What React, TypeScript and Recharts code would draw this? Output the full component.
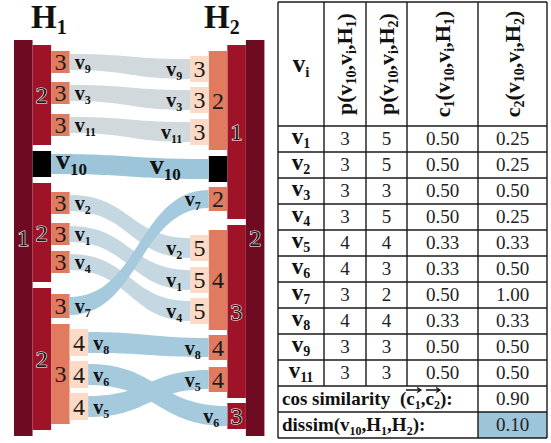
import React from "react";
import {
  ComposedChart,
  XAxis,
  YAxis,
  Area,
  ReferenceArea,
  ReferenceDot,
} from "recharts";

const SERIF = '"Liberation Serif", "Times New Roman", serif';

// fill per depth of the hierarchy, outermost -> innermost
const LEVEL_FILL = ["#6e0b22", "#9f1329", "#e07b60", "#fddac6"];
const BLACK = "#000000";

const GRAY_LINK = "#d2d9dc";
const PALE_LINK = "#c5d8e2";
const BLUE_LINK = "#a5cadd";
const V10_LINK = "#9cc5d9";

type HNode = { id?: string; level: number; y0: number; y1: number; label: string };

// H1 (left side)
const h1Nodes: HNode[] = [
  { level: 0, y0: 40, y1: 436, label: "1" },
  { level: 1, y0: 45, y1: 145, label: "2" },
  { id: "10", level: 1, y0: 151, y1: 177, label: "" },
  { level: 1, y0: 183, y1: 282, label: "2" },
  { level: 1, y0: 288, y1: 430, label: "2" },
  { id: "9", level: 2, y0: 51, y1: 73, label: "3" },
  { id: "3", level: 2, y0: 82, y1: 104, label: "3" },
  { id: "11", level: 2, y0: 114, y1: 136, label: "3" },
  { id: "2", level: 2, y0: 192, y1: 214, label: "3" },
  { id: "1", level: 2, y0: 223, y1: 245, label: "3" },
  { id: "4", level: 2, y0: 251, y1: 273, label: "3" },
  { id: "7", level: 2, y0: 294, y1: 318, label: "3" },
  { level: 2, y0: 324, y1: 424, label: "3" },
  { id: "8", level: 3, y0: 329, y1: 356, label: "4" },
  { id: "6", level: 3, y0: 361, y1: 388, label: "4" },
  { id: "5", level: 3, y0: 393, y1: 420, label: "4" },
];

// H2 (right side)
const h2Nodes: HNode[] = [
  { level: 0, y0: 40, y1: 436, label: "2" },
  { level: 1, y0: 45, y1: 219, label: "1" },
  { level: 1, y0: 225, y1: 398, label: "3" },
  { id: "6", level: 1, y0: 403, y1: 429, label: "3" },
  { level: 2, y0: 51, y1: 150, label: "2" },
  { id: "10", level: 2, y0: 156, y1: 182, label: "" },
  { id: "7", level: 2, y0: 187, y1: 211, label: "2" },
  { level: 2, y0: 230, y1: 330, label: "4" },
  { id: "8", level: 2, y0: 335, y1: 360, label: "4" },
  { id: "5", level: 2, y0: 367, y1: 392, label: "4" },
  { id: "9", level: 3, y0: 56, y1: 82, label: "3" },
  { id: "3", level: 3, y0: 87, y1: 113, label: "3" },
  { id: "11", level: 3, y0: 119, y1: 145, label: "3" },
  { id: "2", level: 3, y0: 235, y1: 261, label: "5" },
  { id: "1", level: 3, y0: 267, y1: 293, label: "5" },
  { id: "4", level: 3, y0: 298, y1: 324, label: "5" },
];

const linkNames = ["9", "3", "11", "10", "2", "1", "4", "8", "6", "5", "7"];
const linkColors = [
  GRAY_LINK, GRAY_LINK, GRAY_LINK, V10_LINK, PALE_LINK, PALE_LINK, PALE_LINK,
  BLUE_LINK, BLUE_LINK, BLUE_LINK, BLUE_LINK,
];

// table
const vertices = ["1", "2", "3", "4", "5", "6", "7", "8", "9", "11"];
const pH1 = [3, 3, 3, 3, 4, 4, 3, 4, 3, 3];
const pH2 = [5, 5, 3, 5, 4, 3, 2, 4, 3, 3];
const cH1 = [0.5, 0.5, 0.5, 0.5, 0.33, 0.33, 0.5, 0.33, 0.5, 0.5];
const cH2 = [0.25, 0.25, 0.5, 0.25, 0.33, 0.5, 1.0, 0.33, 0.5, 0.5];
const cosSimilarity = 0.9;
const dissim = 0.1;

// layout
const COL_PX = 18.55;
const LEFT_PX = 14;
const CHART_W = 270;
const CHART_H = 443;
const H2_OUTER = 12.5; // column index of the outer H2 column
const INSET = 3;

const h1Left = (n: HNode) => n.level;
const h2Left = (n: HNode) => H2_OUTER - n.level;

type Part = [string, boolean?];

function Rich({ parts, size, subSize, shift, ...rest }: any) {
  let prev = false;
  return (
    <text fontSize={size} {...rest}>
      {parts.map(([s, sub]: Part, i: number) => {
        const dy = sub && !prev ? shift : !sub && prev ? -shift : 0;
        prev = !!sub;
        return (
          <tspan key={i} dy={dy || undefined} fontSize={sub ? subSize : size}>
            {s}
          </tspan>
        );
      })}
    </text>
  );
}

function boxLabel(text: string, level: number) {
  return (p: any) => (
    <text
      x={p.cx}
      y={p.cy + 8}
      textAnchor="middle"
      fontFamily={SERIF}
      fontSize={24}
      fill="#1b1b1b"
      stroke={level < 2 ? "#ffffff" : "none"}
      strokeWidth={level < 2 ? 1.2 : 0}
      paintOrder="stroke"
    >
      {text}
    </text>
  );
}

function linkLabel(name: string, side: "start" | "end") {
  const big = name === "10";
  const pad = side === "start" ? 5 : big ? 28 : 8;
  return (p: any) => (
    <Rich
      parts={[["v"], [name, true]]}
      x={side === "start" ? p.cx + pad : p.cx - pad}
      y={p.cy + (big ? 5 : 7)}
      textAnchor={side}
      fontFamily={SERIF}
      fontWeight="bold"
      fill="#111"
      size={big ? 28 : 20}
      subSize={big ? 17 : 12}
      shift={big ? 6 : 4}
    />
  );
}

function Sankey() {
  const boxes = [
    ...h1Nodes.map((n) => ({ ...n, x: h1Left(n) })),
    ...h2Nodes.map((n) => ({ ...n, x: h2Left(n) })),
  ];
  const links = linkNames.map((name, i) => {
    const a = h1Nodes.find((n) => n.id === name)!;
    const b = h2Nodes.find((n) => n.id === name)!;
    return {
      name,
      color: linkColors[i],
      x0: h1Left(a) + 1,
      x1: h2Left(b),
      a,
      b,
    };
  });

  return (
    <ComposedChart
      width={CHART_W}
      height={CHART_H}
      margin={{ top: 0, right: 0, bottom: 0, left: 0 }}
    >
      <XAxis
        dataKey="x"
        type="number"
        domain={[-LEFT_PX / COL_PX, (CHART_W - LEFT_PX) / COL_PX]}
        allowDataOverflow
        hide
      />
      <YAxis type="number" domain={[0, CHART_H]} reversed allowDataOverflow hide />
      {boxes.map((b, i) => (
        <ReferenceArea
          key={"box" + i}
          x1={b.x}
          x2={b.x + 1}
          y1={b.y0}
          y2={b.y1}
          fill={b.label === "" ? BLACK : LEVEL_FILL[b.level]}
          fillOpacity={1}
          stroke="none"
          ifOverflow="visible"
        />
      ))}
      {links.map((l) => (
        <Area
          key={"link" + l.name}
          data={[
            { x: l.x0, band: [l.a.y0 + INSET, l.a.y1 - INSET] },
            { x: l.x1, band: [l.b.y0 + INSET, l.b.y1 - INSET] },
          ]}
          dataKey="band"
          type="bumpX"
          fill={l.color}
          fillOpacity={1}
          stroke="none"
          dot={false}
          activeDot={false}
          isAnimationActive={false}
        />
      ))}
      {boxes
        .filter((b) => b.label !== "")
        .map((b, i) => (
          <ReferenceDot
            key={"bl" + i}
            x={b.x + 0.5}
            y={(b.y0 + b.y1) / 2}
            ifOverflow="visible"
            shape={boxLabel(b.label, b.level)}
          />
        ))}
      {links.map((l) => (
        <ReferenceDot
          key={"ls" + l.name}
          x={l.x0}
          y={(l.a.y0 + l.a.y1) / 2}
          ifOverflow="visible"
          shape={linkLabel(l.name, "start")}
        />
      ))}
      {links.map((l) => (
        <ReferenceDot
          key={"le" + l.name}
          x={l.x1}
          y={(l.b.y0 + l.b.y1) / 2}
          ifOverflow="visible"
          shape={linkLabel(l.name, "end")}
        />
      ))}
    </ComposedChart>
  );
}

// table geometry
const TX = [278, 324, 366, 407, 478, 547];
const T_TOP = 2;
const HEAD_BOTTOM = 126;
const ROW_H = 26;

function Table() {
  const rowsTop = (i: number) => HEAD_BOTTOM + i * ROW_H;
  const bottom = rowsTop(vertices.length + 2);
  const line = "#1a1a1a";
  const cx = (c: number) => (TX[c] + TX[c + 1]) / 2;
  const headers: Part[][] = [
    [["p(v"], ["10", true], [",v"], ["i", true], [",H"], ["1", true], [")"]],
    [["p(v"], ["10", true], [",v"], ["i", true], [",H"], ["2", true], [")"]],
    [["c"], ["1", true], ["(v"], ["10", true], [",v"], ["i", true], [",H"], ["1", true], [")"]],
    [["c"], ["2", true], ["(v"], ["10", true], [",v"], ["i", true], [",H"], ["2", true], [")"]],
  ];
  const cosTop = rowsTop(vertices.length);
  const disTop = rowsTop(vertices.length + 1);
  const arrow = (x0: number, x1: number, y: number) => (
    <path
      d={`M${x0},${y} L${x1},${y} M${x1 - 4},${y - 2.5} L${x1},${y} L${x1 - 4},${y + 2.5}`}
      stroke="#111"
      strokeWidth={1.3}
      fill="none"
    />
  );
  return (
    <svg
      width={551}
      height={443}
      style={{ position: "absolute", left: 0, top: 0 }}
      fontFamily={SERIF}
    >
      <rect x={TX[4]} y={disTop} width={TX[5] - TX[4]} height={ROW_H} fill="#9dc5d9" />
      {/* horizontal rules */}
      {[T_TOP, HEAD_BOTTOM, ...vertices.map((_, i) => rowsTop(i + 1)), disTop, bottom].map(
        (y, i) => (
          <line key={"h" + i} x1={TX[0]} x2={TX[5]} y1={y} y2={y} stroke={line} strokeWidth={1.4} />
        )
      )}
      {/* vertical rules */}
      {TX.map((x, i) => (
        <line
          key={"v" + i}
          x1={x}
          x2={x}
          y1={T_TOP}
          y2={i === 0 || i >= 4 ? bottom : cosTop}
          stroke={line}
          strokeWidth={1.4}
        />
      ))}
      <Rich
        parts={[["v"], ["i", true]]}
        x={cx(0)}
        y={72}
        textAnchor="middle"
        fontWeight="bold"
        fill="#111"
        size={25}
        subSize={15}
        shift={5}
      />
      {headers.map((parts, i) => (
        <g key={"hd" + i} transform={`translate(${cx(i + 1)},${(T_TOP + HEAD_BOTTOM) / 2}) rotate(-90)`}>
          <Rich
            parts={parts}
            x={0}
            y={7}
            textAnchor="middle"
            fontWeight="bold"
            fill="#111"
            size={22}
            subSize={14}
            shift={4}
          />
        </g>
      ))}
      {vertices.map((v, i) => {
        const y = rowsTop(i) + 19;
        return (
          <g key={"r" + v}>
            <Rich
              parts={[["v"], [v, true]]}
              x={cx(0)}
              y={y - 1}
              textAnchor="middle"
              fontWeight="bold"
              fill="#111"
              size={23}
              subSize={14}
              shift={4}
            />
            <text x={cx(1)} y={y} textAnchor="middle" fontSize={19} fill="#222">{pH1[i]}</text>
            <text x={cx(2)} y={y} textAnchor="middle" fontSize={19} fill="#222">{pH2[i]}</text>
            <text x={cx(3)} y={y} textAnchor="middle" fontSize={19} fill="#222">{cH1[i].toFixed(2)}</text>
            <text x={cx(4)} y={y} textAnchor="middle" fontSize={19} fill="#222">{cH2[i].toFixed(2)}</text>
          </g>
        );
      })}
      <text x={282} y={cosTop + 19} fontSize={19} fontWeight="bold" fill="#111">cos similarity</text>
      <Rich
        parts={[["(c"], ["1", true], [",c"], ["2", true], ["):"]]}
        x={400}
        y={cosTop + 19}
        fontWeight="bold"
        fill="#111"
        size={19}
        subSize={12}
        shift={4}
      />
      {arrow(406, 421, cosTop + 4)}
      {arrow(426, 440, cosTop + 4)}
      <text x={cx(4)} y={cosTop + 19} textAnchor="middle" fontSize={19} fill="#222">
        {cosSimilarity.toFixed(2)}
      </text>
      <Rich
        parts={[["dissim(v"], ["10", true], [",H"], ["1", true], [",H"], ["2", true], ["):"]]}
        x={282}
        y={disTop + 19}
        fontWeight="bold"
        fill="#111"
        size={19}
        subSize={12}
        shift={4}
      />
      <text x={cx(4)} y={disTop + 19} textAnchor="middle" fontSize={19} fill="#222">
        {dissim.toFixed(2)}
      </text>
    </svg>
  );
}

export default function App() {
  return (
    <div
      style={{
        position: "absolute",
        left: 0,
        top: 0,
        width: 551,
        height: 443,
        background: "#fff",
        fontFamily: SERIF,
      }}
    >
      <div style={{ position: "absolute", left: 0, top: 0 }}>
        <Sankey />
      </div>
      <svg width={270} height={40} style={{ position: "absolute", left: 0, top: 0 }} fontFamily={SERIF}>
        <Rich parts={[["H"], ["1", true]]} x={31} y={28} fontWeight="bold" fill="#111" size={33} subSize={20} shift={6} />
        <Rich parts={[["H"], ["2", true]]} x={204} y={28} fontWeight="bold" fill="#111" size={33} subSize={20} shift={6} />
      </svg>
      <Table />
    </div>
  );
}
